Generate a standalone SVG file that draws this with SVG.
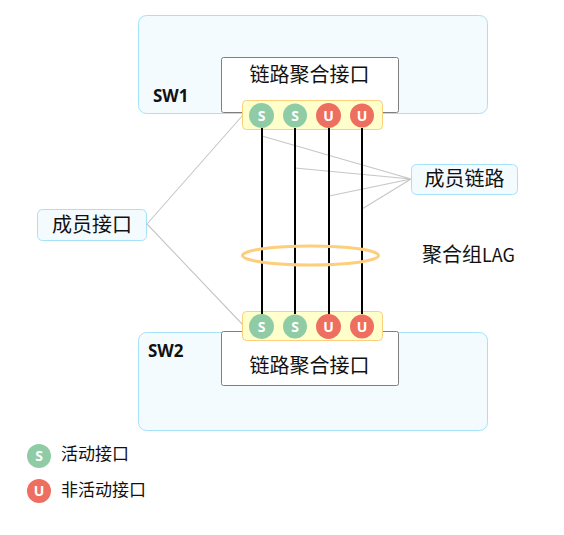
<svg xmlns="http://www.w3.org/2000/svg" width="564" height="535" viewBox="0 0 564 535">
<style>
text{font-family:"Noto Sans CJK SC","Noto Sans",sans-serif;fill:#111}
.sw{fill:#f4fbff;stroke:#a5e1f7;stroke-width:1}
.agg{fill:#fff;stroke:#7f7f7f;stroke-width:1}
.bar{fill:#ffffcc;stroke:#fdce7c;stroke-width:1}
.lbl{fill:#f4fbff;stroke:#a5e1f7;stroke-width:1}
.t20{font-size:20px;text-anchor:middle}
.t17{font-size:17px}
.b{font-size:17px;font-weight:700;font-family:"Open Sans","Noto Sans",sans-serif;fill:#111}
.g{fill:#8fcca5}
.r{fill:#ee6f60}
.c{font-size:14px;font-weight:700;text-anchor:middle;fill:#fff;font-family:"Open Sans","Noto Sans",sans-serif}
.lead{stroke:#c6c6c6;stroke-width:1.100;fill:none}
.link{stroke:#000;stroke-width:2;fill:none}
</style>
<rect width="564" height="535" fill="#fff"/>
<g id="sw1">
<rect class="sw" x="138.500" y="15.500" width="349" height="98" rx="8"/>
<text class="b" x="153" y="102">SW1</text>
</g>
<g id="sw2">
<rect class="sw" x="138.500" y="332.500" width="349" height="98" rx="8"/>
<text class="b" x="148" y="357">SW2</text>
</g>
<g id="agg1">
<rect class="agg" x="221.500" y="57.500" width="177" height="55" rx="2"/>
<text class="t20" x="309.500" y="82">链路聚合接口</text>
</g>
<g id="agg2">
<rect class="agg" x="221.500" y="331.500" width="177" height="54" rx="2"/>
<text class="t20" x="309.500" y="373">链路聚合接口</text>
</g>
<g id="connectors">
<path class="lead" d="M411 179L262 136M411 179L295 168M411 179L329 196M411 179L362 209M147 224L243 115M147 224L243 325"/>
</g>
<g id="port-bar1">
<rect class="bar" x="242.500" y="100.500" width="140" height="29" rx="4"/>
</g>
<g id="port-bar2">
<rect class="bar" x="242.500" y="311.500" width="140" height="29" rx="4"/>
</g>
<g id="links">
<path class="link" d="M262 128V314M295 128V314M329 128V314M362 128V314"/>
</g>
<g id="lag">
<ellipse cx="310.500" cy="255.500" rx="68" ry="9.500" fill="none" stroke="#fdce7c" stroke-width="3"/>
</g>
<g id="ports1">
<circle class="g" cx="261.500" cy="115.500" r="12.500"/><text class="c" x="261.500" y="120.500">S</text>
<circle class="g" cx="295" cy="115.500" r="12"/><text class="c" x="295" y="120.500">S</text>
<circle class="r" cx="328.500" cy="115.500" r="12.500"/><text class="c" x="328.500" y="120.500">U</text>
<circle class="r" cx="362" cy="115.500" r="12"/><text class="c" x="362" y="120.500">U</text>
</g>
<g id="ports2">
<circle class="g" cx="261.500" cy="326.500" r="12.500"/><text class="c" x="261.500" y="331.500">S</text>
<circle class="g" cx="295" cy="326.500" r="12"/><text class="c" x="295" y="331.500">S</text>
<circle class="r" cx="328.500" cy="326.500" r="12.500"/><text class="c" x="328.500" y="331.500">U</text>
<circle class="r" cx="362" cy="326.500" r="12"/><text class="c" x="362" y="331.500">U</text>
</g>
<g id="member-link">
<rect class="lbl" x="411.500" y="164.500" width="106" height="30" rx="5"/>
<text class="t20" x="464.500" y="186">成员链路</text>
</g>
<g id="member-port">
<rect class="lbl" x="37.500" y="209.500" width="109" height="31" rx="5"/>
<text class="t20" x="92" y="232">成员接口</text>
</g>
<g id="lag-label">
<text x="422" y="262" font-size="20">聚合组<tspan font-size="18">LAG</tspan></text>
</g>
<g id="legend-s">
<circle class="g" cx="39" cy="456" r="12"/><text class="c" x="39" y="461">S</text>
<text class="t17" x="61" y="460">活动接口</text>
</g>
<g id="legend-u">
<circle class="r" cx="39" cy="491" r="12"/><text class="c" x="39" y="496">U</text>
<text class="t17" x="61" y="496">非活动接口</text>
</g>
</svg>
